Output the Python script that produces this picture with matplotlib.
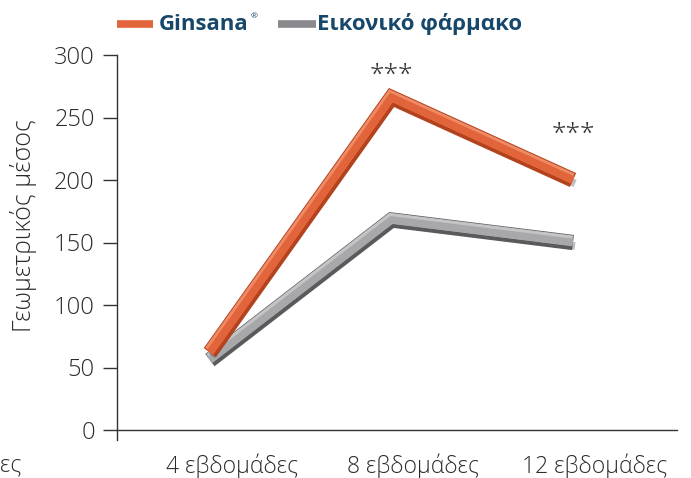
import matplotlib
matplotlib.use("Agg")
import matplotlib.pyplot as plt
import matplotlib.patheffects as pe
from matplotlib.transforms import ScaledTranslation

categories = ["4 εβδομάδες", "8 εβδομάδες", "12 εβδομάδες"]
ginsana = [62, 266, 200]
placebo = [56, 168, 150]
yticks = [0, 50, 100, 150, 200, 250, 300]
series_names = ["Ginsana", "Εικονικό φάρμακο"]
signif = ["", "***", "***"]
signif_offset = [0, 7, 24]

ORANGE = "#e2643a"
ORANGE_D = "#b4421d"
ORANGE_L = "#ee8b66"
GRAY = "#a8a8ab"
GRAY_D = "#5a5a5d"
GRAY_L = "#c4c4c6"
NAVY = "#17486b"
TXT = "#2b2b2b"

plt.rcParams['font.family'] = ['Open Sans', 'DejaVu Sans']

fig = plt.figure(figsize=(6.91, 4.78), dpi=100)
ax = fig.add_axes([117/691, 1-440/478, (677-117)/691, (440-55)/478])

for s in ["top", "right"]:
    ax.spines[s].set_visible(False)
ax.spines["bottom"].set_position(("data", 0))
for s in ["left", "bottom"]:
    ax.spines[s].set_color("#333333")
    ax.spines[s].set_linewidth(1)

x = list(range(len(categories)))

def styled(color_d, color_l):
    return [pe.SimpleLineShadow(offset=(1.5, -2.5), shadow_color="black", alpha=0.25),
            pe.Stroke(linewidth=11, foreground=color_d),
            pe.Stroke(linewidth=7.5, foreground=color_l, offset=(-0.4, 1.3)),
            pe.Normal()]

ax.plot(x, placebo, color=GRAY, lw=5.5, solid_joinstyle="miter", solid_capstyle="butt",
        path_effects=styled(GRAY_D, GRAY_L), zorder=3)
ax.plot(x, ginsana, color=ORANGE, lw=5.5, solid_joinstyle="miter", solid_capstyle="butt",
        path_effects=styled(ORANGE_D, ORANGE_L), zorder=4)

for xi, yi, s, o in zip(x, ginsana, signif, signif_offset):
    if s:
        ax.annotate(s, (xi, yi), xytext=(0, o), textcoords="offset points",
                    ha="center", va="bottom", fontsize=19, color="#333333",
                    fontweight="light")

ax.set_xlim(-0.512, 2.573)
ax.set_ylim(-8, 300)
ax.set_yticks(yticks)
ax.set_yticklabels([str(v) for v in yticks])
ax.tick_params(axis="y", length=10, width=1, color="#333333", pad=6,
               labelsize=17, labelcolor=TXT)

ax.set_xticks(x)
ax.set_xticklabels(categories)
ax.tick_params(axis="x", length=0, pad=17, labelsize=16.5, labelcolor=TXT)
off = ScaledTranslation(22/100, 0, fig.dpi_scale_trans)
for lbl in ax.get_xticklabels():
    lbl.set_transform(lbl.get_transform() + off)
    lbl.set_fontweight("light")
for lbl in ax.get_yticklabels():
    lbl.set_fontweight("light")

ax.set_ylabel("Γεωμετρικός μέσος", fontsize=18, color=TXT, fontweight="light")
ax.yaxis.set_label_coords(-0.143, 0.558)

# partly visible label at the far left
fig.text(0, 1-465/478, "ες", ha="left", va="center", fontsize=16.5,
         color=TXT, fontweight="light")

# legend
fig.add_artist(plt.Line2D([117/691, 153/691], [1-24/478, 1-24/478], color=ORANGE, lw=5.5,
                          solid_capstyle="butt", transform=fig.transFigure))
fig.text(159/691, 1-24/478, series_names[0], fontsize=16, fontweight="bold", color=NAVY,
         ha="left", va="center")
fig.text(251/691, 1-17/478, "®", fontsize=6, color=NAVY, ha="left", va="center")
fig.add_artist(plt.Line2D([278/691, 316/691], [1-24/478, 1-24/478], color="#8a8a8e", lw=5.5,
                          solid_capstyle="butt", transform=fig.transFigure))
fig.text(317/691, 1-24/478, series_names[1], fontsize=16, fontweight="bold", color=NAVY,
         ha="left", va="center")

fig.savefig("out.png", dpi=100)
